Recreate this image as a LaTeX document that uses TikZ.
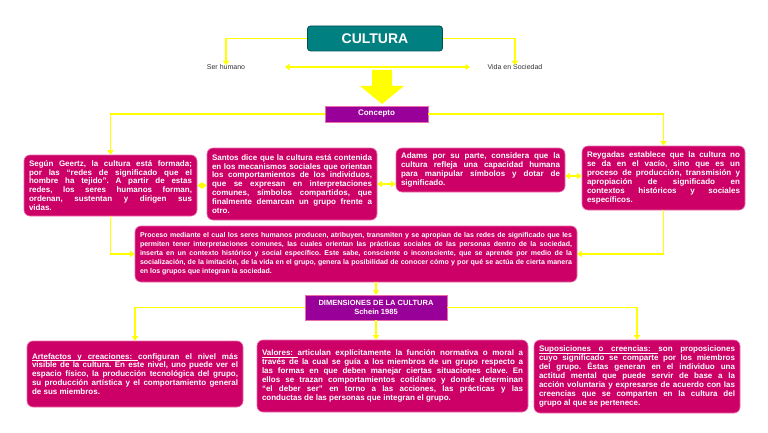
\documentclass[tikz,border=0pt]{standalone}
\usepackage{fontspec}
\setmainfont{Liberation Sans}
\usetikzlibrary{arrows.meta,calc}
\definecolor{pinkc}{RGB}{204,0,102}
\definecolor{pinkedge}{RGB}{236,110,170}
\definecolor{purplec}{RGB}{153,0,153}
\definecolor{tealc}{RGB}{0,128,128}
\definecolor{tealedge}{RGB}{0,80,80}
\definecolor{ylw}{RGB}{255,255,0}
\definecolor{graytxt}{RGB}{50,50,50}
\newcommand\ulw[1]{\setbox0\hbox{#1}\rlap{\vrule height -1.1pt depth 1.6pt width \wd0}\box0}
\newcommand\ulsp{\leaders\hrule height -1.1pt depth 1.6pt\hskip\fontdimen2\font plus\fontdimen3\font minus\fontdimen4\font\relax}
\begin{document}
\begin{tikzpicture}[x=1pt,y=-1pt,
  pinkbox/.style={rectangle, rounded corners=6pt, fill=pinkc, draw=pinkedge, line width=0.6pt,
    text=white, align=justify, inner xsep=5pt, inner ysep=2pt,
    font=\bfseries\fontsize{8}{8.9}\selectfont\frenchspacing},
  purplebox/.style={rectangle, fill=purplec, draw=pinkedge, line width=0.5pt, text=white,
    align=center, inner sep=1pt},
  yl/.style={draw=ylw, line width=1.8pt},
  ya/.style={yl, -{Triangle[width=6pt,length=4.5pt]}},
  yd/.style={yl, {Triangle[width=6pt,length=4.5pt]}-{Triangle[width=6pt,length=4.5pt]}},
  plain/.style={text=graytxt, font=\fontsize{7}{8}\selectfont, inner sep=1pt}
]
\useasboundingbox (0,0) rectangle (768,433);
\fill[white] (0,0) rectangle (768,433);

% title
\node[rectangle, rounded corners=3pt, fill=tealc, draw=tealedge, line width=0.8pt,
  minimum width=135pt, minimum height=25pt, text=white,
  font=\bfseries\fontsize{14}{16}\selectfont] (cul) at (375,38.5) {CULTURA};
\node[plain] (ser) at (226,67) {Ser humano};
\node[plain] (vida) at (515,67) {Vida en Sociedad};
\draw[ya] (cul.west) -| ([yshift=-2pt]ser.north);
\draw[ya] (cul.east) -| ([yshift=-2pt]vida.north);
\coordinate (dl) at (285,67);
\coordinate (dr) at (470,67);
\draw[yd] (dl) -- (dr);

% big arrow
\fill[ylw] (372,70) -- (392,70) -- (392,86) -- (404,86) -- (382,104) -- (360,86) -- (372,86) -- cycle;

\node[purplebox, minimum width=103pt, minimum height=16pt,
  font=\bfseries\fontsize{8}{9}\selectfont] (con) at (376.5,114) {Concepto};

% concept boxes
\node[pinkbox, text width=163pt, minimum height=61pt] (b1) at (110.5,185.5) {%
Según Geertz, la cultura está formada;\linebreak
por las “redes de significado que el\linebreak
hombre ha tejido”. A partir de estas\linebreak
redes, los seres humanos forman,\linebreak
ordenan, sustentan y dirigen sus\linebreak
vidas.};
\node[pinkbox, text width=160pt, minimum height=72pt] (b2) at (292,184) {%
Santos dice que la cultura está contenida\linebreak
en los mecanismos sociales que orientan\linebreak
los comportamientos de los individuos,\linebreak
que se expresan en interpretaciones\linebreak
comunes, símbolos compartidos, que\linebreak
finalmente demarcan un grupo frente a\linebreak
otro.};
\node[pinkbox, text width=159pt, minimum height=44pt] (b3) at (480.5,170) {%
Adams por su parte, considera que la\linebreak
cultura refleja una capacidad humana\linebreak
para manipular símbolos y dotar de\linebreak
significado.};
\node[pinkbox, text width=153pt, minimum height=64pt] (b4) at (663.5,178) {%
Reygadas establece que la cultura no\linebreak
se da en el vacío, sino que es un\linebreak
proceso de producción, transmisión y\linebreak
apropiación de significado en\linebreak
contextos históricos y sociales\linebreak
específicos.};

\draw[ya] (con.west) -| (b1.north);
\draw[ya] (con.east) -| (b4.north);
\draw[yd] (b1.east) -- (b2.west |- b1.east);
\draw[yd] (b2.east) -- (b3.west |- b2.east);
\draw[yd] (b3.east |- 0,176) -- (b4.west |- 0,176);

% process box
\node[pinkbox, text width=432pt, minimum height=56pt,
  font=\bfseries\fontsize{7}{9}\selectfont\frenchspacing] (b5) at (356,254) {%
Proceso mediante el cual los seres humanos producen, atribuyen, transmiten y se apropian de las redes de significado que les\linebreak
permiten tener interpretaciones comunes, las cuales orientan las prácticas sociales de las personas dentro de la sociedad,\linebreak
inserta en un contexto histórico y social específico. Este sabe, consciente o inconsciente, que se aprende por medio de la\linebreak
socialización, de la imitación, de la vida en el grupo, genera la posibilidad de conocer cómo y por qué se actúa de cierta manera\linebreak
en los grupos que integran la sociedad.};
\draw[ya] (b1.south) |- (b5.west);
\draw[ya] (b4.south) |- (b5.east);

\node[purplebox, minimum width=142pt, minimum height=25pt,
  font=\bfseries\fontsize{7.5}{9}\selectfont] (dim) at (376,307.5) {DIMENSIONES DE LA CULTURA\\Schein 1985};
\draw[ya] (dim.north |- b5.south) -- (dim.north);

% dimension boxes
\node[pinkbox, text width=206pt, minimum height=66pt] (b6) at (135,374) {%
\ulw{Artefactos}\ulsp\ulw{y}\ulsp\ulw{creaciones:}\ulsp configuran el nivel más\linebreak
visible de la cultura. En este nivel, uno puede ver el\linebreak
espacio físico, la producción tecnológica del grupo,\linebreak
su producción artística y el comportamiento general\linebreak
de sus miembros.};
\node[pinkbox, text width=261pt, minimum height=72pt] (b7) at (392.5,376) {%
\ulw{Valores:}\ulsp articulan explícitamente la función normativa o moral a\linebreak
través de la cual se guía a los miembros de un grupo respecto a\linebreak
las formas en que deben manejar ciertas situaciones clave. En\linebreak
ellos se trazan comportamientos cotidiano y donde determinan\linebreak
“el deber ser” en torno a las acciones, las prácticas y las\linebreak
conductas de las personas que integran el grupo.};
\node[pinkbox, text width=196pt, minimum height=73pt] (b8) at (637,376.5) {%
\ulw{Suposiciones}\ulsp\ulw{o}\ulsp\ulw{creencias:}\ulsp son proposiciones\linebreak
cuyo significado se comparte por los miembros\linebreak
del grupo. Éstas generan en el individuo una\linebreak
actitud mental que puede servir de base a la\linebreak
acción voluntaria y expresarse de acuerdo con las\linebreak
creencias que se comparten en la cultura del\linebreak
grupo al que se pertenece.};

\draw[ya] (dim.west) -| (b6.north);
\draw[ya] (dim.east) -| (b8.north);
\draw[ya] (dim.south) -- (dim.south |- b7.north);
\end{tikzpicture}
\end{document}
